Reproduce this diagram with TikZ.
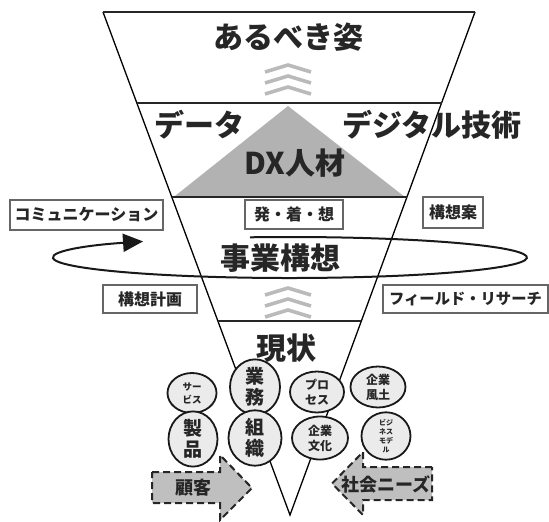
\documentclass[tikz,border=0pt]{standalone}
\usepackage{fontspec}
\setmainfont{Noto Sans CJK JP}
\usetikzlibrary{shapes.geometric,arrows.meta,calc}
\tikzset{
  funnel/.style={line width=1.3pt, draw=black},
  hline/.style={line width=1.8pt, draw=black!85},
  chev/.style={line width=3.6pt, draw=black!27},
  biglbl/.style={font=\bfseries\fontsize{30}{30}\selectfont, text=black!85, inner sep=0pt},
  tagbox/.style={draw=black!60, line width=1.2pt, fill=white, text=black!85,
     font=\bfseries\fontsize{16}{16}\selectfont, inner sep=0pt},
  circ/.style={ellipse, draw=black!90, line width=1.8pt, fill=black!8, inner sep=0pt,
     align=center, text=black!85},
  bigc/.style={font=\bfseries\fontsize{19}{21}\selectfont},
  midc/.style={font=\bfseries\fontsize{12}{15}\selectfont},
  smlc/.style={font=\bfseries\fontsize{9.5}{13}\selectfont},
  tinyc/.style={font=\bfseries\fontsize{7}{9}\selectfont},
  dasharrow/.style={draw=black!85, line width=2pt, dash pattern=on 7pt off 4pt, fill=black!25},
  arrlbl/.style={font=\bfseries\fontsize{18}{18}\selectfont, text=black!85, inner sep=0pt},
  ellarrow/.style={line width=2pt, draw=black!90, -{Triangle[length=20pt,width=18pt]}}
}
\begin{document}
\begin{tikzpicture}[x=1pt,y=-1pt]
\useasboundingbox (0,0) rectangle (549,522);
% funnel
\coordinate (TL) at (103,12);
\coordinate (TR) at (475,12);
\coordinate (AP) at (290,515);
\coordinate (L1) at ($(TL)!0.1809!(AP)$);
\coordinate (R1) at ($(TR)!0.1809!(AP)$);
\coordinate (L2) at ($(TL)!0.3678!(AP)$);
\coordinate (R2) at ($(TR)!0.3678!(AP)$);
\coordinate (L3) at ($(TL)!0.6143!(AP)$);
\coordinate (R3) at ($(TR)!0.6143!(AP)$);
% DX triangle
\fill[black!30] (288,106) -- ($(L2)+(2,0)$) -- ($(R2)+(-2,0)$) -- cycle;
\draw[funnel] (TL) -- (AP) -- (TR);
\draw[hline] (TL) -- (TR);
\draw[hline] (L1) -- (R1);
\draw[hline] (L2) -- (R2);
\draw[hline] (L3) -- (R3);
% chevrons
\foreach \yy in {65,76,87} \draw[chev] (265,{\yy+7}) -- (288,\yy) -- (311,{\yy+7});
\foreach \yy in {288,299,310} \draw[chev] (265,{\yy+7}) -- (288,\yy) -- (311,{\yy+7});
% main labels
\node[biglbl] (ideal) at (288,37) {あるべき姿};
\node[biglbl] (data) at (199,125) {データ};
\node[biglbl] (digital) at (432,125) {デジタル技術};
\node[biglbl] (dx) at (295,163) {DX人材};
\node[biglbl] (plan) at (280,258) {事業構想};
\node[biglbl] (now) at (286,348) {現状};
% cycle ellipse with arrow
\draw[ellarrow] (250,237.3) arc[start angle=260.3, end angle=591.7, x radius=237, y radius=20.5];
% tag boxes
\node[tagbox, minimum width=153pt, minimum height=30pt] (comm) at (86.5,215) {コミュニケーション};
\node[tagbox, minimum width=98pt, minimum height=29pt] (hatsu) at (294,214.5) {発・着・想};
\node[tagbox, minimum width=60pt, minimum height=31pt] (kouan) at (453,212.5) {構想案};
\node[tagbox, minimum width=94pt, minimum height=28pt] (keikaku) at (150,299) {構想計画};
\node[tagbox, minimum width=165pt, minimum height=28pt, font=\bfseries\fontsize{15.3}{16}\selectfont] (field) at (465.5,299) {フィールド・リサーチ};
% circles
\node[circ, smlc, minimum width=49pt, minimum height=40pt] (svc) at (192,393) {サー\\ビス};
\node[circ, bigc, minimum width=50pt, minimum height=47pt] (gyomu) at (255,387) {業\\務};
\node[circ, midc, minimum width=54pt, minimum height=41pt] (proc) at (317,392) {プロ\\セス};
\node[circ, midc, minimum width=55pt, minimum height=41pt] (fudo) at (378,387) {企業\\風土};
\node[circ, bigc, minimum width=49pt, minimum height=45pt] (seihin) at (193,439) {製\\品};
\node[circ, bigc, minimum width=53pt, minimum height=46pt] (soshiki) at (255,438) {組\\織};
\node[circ, midc, minimum width=56pt, minimum height=43pt] (bunka) at (320,438) {企業\\文化};
\node[circ, tinyc, minimum width=49pt, minimum height=43pt] (bm) at (386,436) {ビジ\\ネス\\モデ\\ル};
% arrows
\draw[dasharrow] (152,472) -- (220,472) -- (220,455) -- (252,488) -- (220,520) -- (220,503) -- (152,503) -- cycle;
\node[arrlbl] (kokyaku) at (193,488) {顧客};
\draw[dasharrow] (432,467) -- (363,467) -- (363,452) -- (332,483.5) -- (363,515) -- (363,500) -- (432,500) -- cycle;
\node[arrlbl] (needs) at (386,484) {社会ニーズ};
\end{tikzpicture}
\end{document}
